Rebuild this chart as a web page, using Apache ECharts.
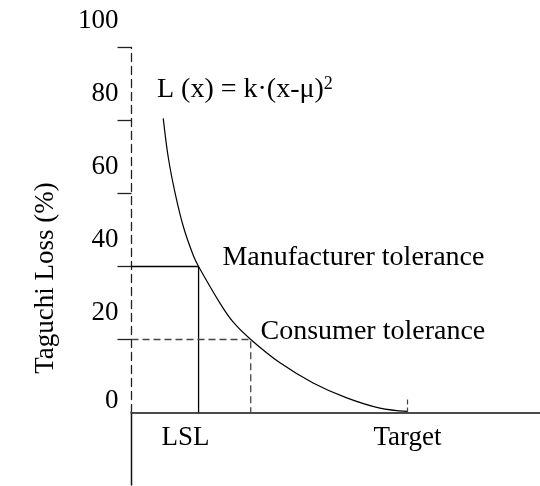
<!DOCTYPE html>
<html>
<head>
<meta charset="UTF-8">
<title>Taguchi loss</title>
<script src="https://cdn.jsdelivr.net/npm/echarts@6/dist/echarts.min.js"></script>
<style>
  html, body { margin: 0; padding: 0; background: #fff; }
  #chart { width: 540px; height: 486px; }
</style>
</head>
<body>
<div id="chart"></div>
<script>
// loss curve (x: target = 10, y: % loss)
var curveX = [1.15, 1.33, 1.58, 1.88, 2.24, 2.43, 3.21, 3.68, 4.32, 5.38, 6.58, 7.8, 9.0, 10];
var curveY = [80.6, 70.0, 60.1, 50.9, 43.0, 40, 29.9, 24.8, 20, 13.6, 8.1, 4.0, 1.2, 0.3];

var lslX = 2.43, manufY = 40;
var consX = 4.32, consY = 20;
var targetX = 10, targetTickH = 4;
var xLeft = -2.7, yLow = -20;

var yTicks = [20, 40, 60, 80, 100];
var yLabels = [0, 20, 40, 60, 80, 100];
var xTickValues = [lslX, targetX];
var xTickLabels = ['LSL', 'Target'];
var noteTexts = ['Manufacturer tolerance', 'Consumer tolerance'];

var font = 'Liberation Serif';

function pairs(xs, ys) {
    var out = [];
    for (var i = 0; i < xs.length; i++) out.push([xs[i], ys[i]]);
    return out;
}

var chart = echarts.init(document.getElementById('chart'));

var option = {
    backgroundColor: '#fff',
    animation: false,
    grid: { left: 131.5, right: 0, top: 47.5, bottom: 73.5, containLabel: false, outerBoundsMode: 'none' },
    xAxis: {
        type: 'value',
        min: 0,
        max: 14.8,
        splitLine: { show: false },
        axisLine: { lineStyle: { color: '#111', width: 1.5 } },
        axisTick: { show: false },
        axisLabel: {
            customValues: xTickValues,
            margin: 12,
            color: '#000',
            fontFamily: font,
            fontSize: 27,
            formatter: function (v) {
                var i = xTickValues.indexOf(v);
                var t = i < 0 ? '' : xTickLabels[i];
                return i === 0 ? '{l|' + t + '}' : t;
            },
            rich: { l: { fontFamily: font, fontSize: 27, color: '#000', padding: [0, 26, 0, 0] } }
        }
    },
    yAxis: {
        type: 'value',
        min: 0,
        max: 100,
        interval: 20,
        name: 'Taguchi Loss (%)',
        nameLocation: 'middle',
        nameGap: 72,
        nameRotate: 90,
        nameMoveOverlap: false,
        nameTextStyle: { fontFamily: font, fontSize: 27, color: '#000', padding: [0, 96, 0, 0] },
        splitLine: { show: false },
        axisLine: { lineStyle: { color: '#222', width: 1.3, type: [8, 5] } },
        axisTick: { customValues: yTicks, length: 14, lineStyle: { color: '#222', width: 1.3 } },
        axisLabel: {
            customValues: yLabels,
            margin: 13,
            color: '#000',
            fontFamily: font,
            fontSize: 27,
            formatter: function (v) { return v === 0 ? '{z|0}' : '{n|' + v + '}'; },
            rich: {
                n: { fontFamily: font, fontSize: 27, color: '#000', padding: [0, 0, 54, 0] },
                z: { fontFamily: font, fontSize: 27, color: '#000', padding: [0, 0, 24, 0] }
            }
        }
    },
    graphic: [{
        type: 'text',
        left: 157,
        top: 75,
        style: {
            text: '{a|L (x) = k·(x-μ)}{s|2}',
            rich: {
                a: { fontFamily: font, fontSize: 28, fill: '#000' },
                s: { fontFamily: font, fontSize: 18, fill: '#000', verticalAlign: 'top', padding: [0, 0, 12, 0] }
            }
        }
    }],
    series: [
        {
            type: 'line', data: pairs(curveX, curveY), smooth: 0.35, symbol: 'none',
            lineStyle: { color: '#000', width: 1.2 }, silent: true, z: 3
        },
        {
            type: 'line', data: [[0, manufY], [lslX, manufY], [lslX, 0]], symbol: 'none',
            lineStyle: { color: '#000', width: 1.3 }, silent: true
        },
        {
            type: 'line', data: [[0, consY], [consX, consY], [consX, 0]], symbol: 'none',
            lineStyle: { color: '#444', width: 1.3, type: [7, 4] }, silent: true
        },
        {
            type: 'line', data: [[targetX, 0], [targetX, targetTickH]], symbol: 'none',
            lineStyle: { color: '#444', width: 1.2, type: [5, 3] }, silent: true
        },
        {
            type: 'line', data: [[0, yLow], [0, 0]], symbol: 'none', clip: false,
            lineStyle: { color: '#111', width: 1.5 }, silent: true, z: 4
        },
        {
            type: 'line', data: [[xLeft, 0], [0, 0]], symbol: 'none', clip: false,
            lineStyle: { color: '#777', width: 2 }, silent: true, z: 4
        },
        {
            type: 'scatter', symbolSize: 1, itemStyle: { color: 'rgba(0,0,0,0)' }, silent: true,
            data: [
                { value: [lslX, manufY], label: { offset: [23.4, -8.5] } },
                { value: [consX, consY], label: { offset: [9.3, -7.5] } }
            ],
            label: {
                show: true, position: 'right', distance: 0, opacity: 1,
                fontFamily: font, fontSize: 28, color: '#000',
                formatter: function (p) { return noteTexts[p.dataIndex]; }
            }
        }
    ]
};

chart.setOption(option);
</script>
</body>
</html>
